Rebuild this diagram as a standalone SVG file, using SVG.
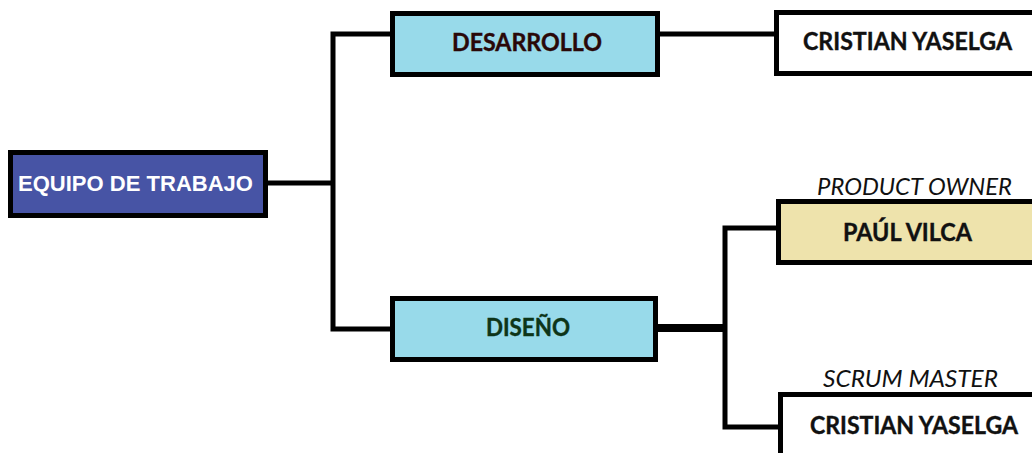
<svg xmlns="http://www.w3.org/2000/svg" width="1032" height="453" viewBox="0 0 1032 453">
<style>
.box{stroke:#000;stroke-width:5}
.blue{fill:#4754A5}
.cyan{fill:#98DAEA}
.white{fill:#FFFFFF}
.tan{fill:#EEE3AC}
.t{font-family:Lato,"Open Sans",sans-serif;font-weight:bold;font-size:24.5px;stroke-width:0.4px}
.role{font-family:Lato,"Open Sans",sans-serif;font-style:italic;font-size:23px;fill:#111}
.main{font-family:"Liberation Sans",Arial,sans-serif;font-weight:bold;font-size:22px;fill:#fff}
.c{fill:none;stroke:#000;stroke-width:5}
</style>
<rect width="1032" height="453" fill="#fff"/>
<g id="connectors">
<path class="c" d="M268 183 H333 M333 34 V331 M330.5 34 H392 M330.5 329 H392"/>
<path class="c" d="M658 34 H776"/>
<path class="c" d="M658 328 H725" style="stroke-width:8"/>
<path class="c" d="M725 225.5 V429.5 M722.5 228 H778 M722.5 427 H780"/>
</g>
<g id="equipo">
<rect class="box blue" x="10.5" y="152.5" width="255" height="63"/>
<text class="main" x="18" y="191" textLength="235" lengthAdjust="spacingAndGlyphs">EQUIPO DE TRABAJO</text>
</g>
<g id="desarrollo">
<rect class="box cyan" x="392.5" y="13.5" width="265" height="61"/>
<text class="t" x="452" y="51" fill="#2A0808" stroke="#2A0808" textLength="150" lengthAdjust="spacingAndGlyphs">DESARROLLO</text>
</g>
<g id="cristian1">
<rect class="box white" x="776.5" y="12.5" width="270" height="61"/>
<text class="t" x="803" y="50" fill="#111" stroke="#111" textLength="209" lengthAdjust="spacingAndGlyphs">CRISTIAN YASELGA</text>
</g>
<g id="diseno">
<rect class="box cyan" x="392.5" y="298.5" width="263" height="61"/>
<text class="t" x="486" y="336" fill="#0D3518" stroke="#0D3518" textLength="84" lengthAdjust="spacingAndGlyphs">DISEÑO</text>
</g>
<g id="paul">
<text class="role" x="817" y="195" textLength="195" lengthAdjust="spacingAndGlyphs">PRODUCT OWNER</text>
<rect class="box tan" x="778.5" y="201.5" width="270" height="61"/>
<text class="t" x="843" y="241" fill="#111" stroke="#111" textLength="129" lengthAdjust="spacingAndGlyphs">PAÚL VILCA</text>
</g>
<g id="cristian2">
<text class="role" x="823" y="387" textLength="175" lengthAdjust="spacingAndGlyphs">SCRUM MASTER</text>
<rect class="box white" x="780.5" y="394.5" width="270" height="70"/>
<text class="t" x="810" y="434" fill="#111" stroke="#111" textLength="208" lengthAdjust="spacingAndGlyphs">CRISTIAN YASELGA</text>
</g>
</svg>
